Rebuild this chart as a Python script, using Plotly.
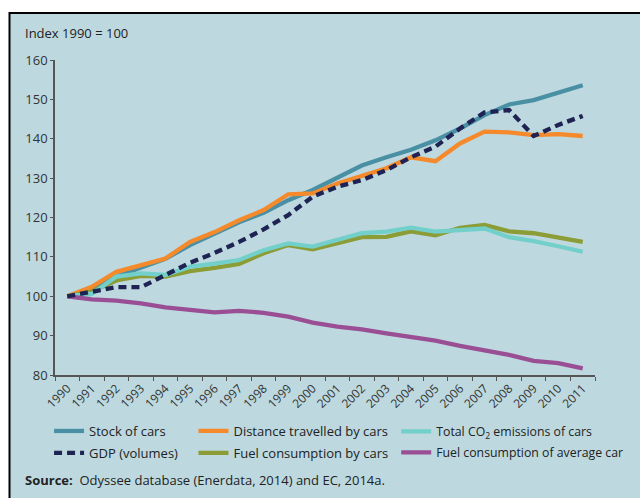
import plotly.graph_objects as go

years = [str(y) for y in range(1990, 2012)]

stock_of_cars = [100, 101.6, 105.0, 107.2, 109.5, 113.0, 116.0, 118.8, 121.2, 124.4, 127.0,
                 130.0, 133.2, 135.3, 137.2, 139.6, 142.6, 146.0, 148.7, 149.8, 151.7, 153.6]
gdp_volumes = [100, 101.2, 102.3, 102.3, 105.5, 108.5, 111.0, 113.8, 117.0, 120.6, 125.3,
               127.8, 129.5, 132.0, 135.3, 138.0, 142.6, 146.7, 147.3, 140.7, 143.5, 145.8]
distance_travelled = [100, 102.4, 106.2, 107.9, 109.6, 113.8, 116.3, 119.3, 121.9, 125.9, 126.1,
                      128.6, 130.5, 132.5, 135.3, 134.3, 138.8, 141.8, 141.6, 140.9, 141.2, 140.7]
fuel_by_cars = [100, 101.2, 104.0, 105.2, 105.0, 106.4, 107.2, 108.2, 110.9, 113.0, 111.9,
                113.4, 115.0, 115.1, 116.5, 115.5, 117.4, 118.1, 116.5, 116.0, 114.9, 113.8]
co2_of_cars = [100, 100.6, 105.0, 105.8, 105.4, 107.5, 108.3, 109.2, 111.7, 113.4, 112.6,
               114.3, 116.0, 116.4, 117.4, 116.4, 116.8, 117.2, 115.0, 114.0, 112.7, 111.3]
fuel_avg_car = [100, 99.2, 98.9, 98.2, 97.2, 96.5, 95.9, 96.3, 95.8, 94.8, 93.3,
                92.3, 91.6, 90.6, 89.7, 88.7, 87.4, 86.3, 85.1, 83.6, 83.0, 81.7]

y_ticks = [80, 90, 100, 110, 120, 130, 140, 150, 160]

BG = "#bdd9df"
AXIS = "#555555"
FONT = "Open Sans"

# plot area in pixels: x 55..601, y 60..375
W, H = 640, 498
L, R, T, B = 55, 601, 60, 375


def px_x(p):
    return (p - L) / (R - L)


def px_y(p):
    return (B - p) / (B - T)


fig = go.Figure()

series = [
    ("Stock of cars", stock_of_cars, "#4a90a4", None, "legend"),
    ("Distance travelled by cars", distance_travelled, "#f58a2c", None, "legend2"),
    ("Fuel consumption by cars", fuel_by_cars, "#8c9c36", None, "legend2"),
    ("Total CO<sub>2</sub> emissions of cars", co2_of_cars, "#72cfca", None, "legend3"),
    ("Fuel consumption of average car", fuel_avg_car, "#9a4f95", None, "legend3"),
    ("GDP (volumes)", gdp_volumes, "#1e2353", "8px,5px", "legend"),
]
legend_rank = {
    "Stock of cars": 1, "GDP (volumes)": 2,
    "Distance travelled by cars": 1, "Fuel consumption by cars": 2,
    "Total CO<sub>2</sub> emissions of cars": 1, "Fuel consumption of average car": 2,
}

for i, (name, vals, color, dash, leg) in enumerate(series):
    fig.add_trace(go.Scatter(
        x=years, y=vals, name=name, mode="lines",
        line=dict(color=color, width=4.3, dash=dash if dash else "solid"),
        legend=leg, legendrank=legend_rank[name], legendgroup=f"g{i}",
    ))

legend_common = dict(
    orientation="v", bgcolor="rgba(0,0,0,0)", borderwidth=0,
    xanchor="left", yanchor="top", tracegroupgap=2,
)

fig.update_layout(
    width=W, height=H,
    margin=dict(l=L, r=W - R, t=T, b=H - B, pad=0),
    paper_bgcolor="white",
    plot_bgcolor="rgba(0,0,0,0)",
    font=dict(family=FONT, size=13, color="#333333"),
    showlegend=True,
    legend=dict(x=px_x(49), y=px_y(416),
                font=dict(family=FONT, size=13, color="#222222"), **legend_common),
    legend2=dict(x=px_x(195), y=px_y(416),
                 font=dict(family=FONT, size=13, color="#222222"), **legend_common),
    legend3=dict(x=px_x(400), y=px_y(416.8),
                 font=dict(family=FONT, size=12.3, color="#222222"), **legend_common),
    xaxis=dict(
        type="category", range=[-0.5, 21.5], tickson="boundaries",
        ticks="outside", ticklen=4, tickwidth=1, tickcolor=AXIS,
        showline=True, linecolor=AXIS, linewidth=1.5,
        showgrid=False, zeroline=False, tickangle=-45,
        tickfont=dict(family=FONT, size=12, color="#333333"),
        fixedrange=True,
    ),
    yaxis=dict(
        range=[80, 160], tickvals=y_ticks,
        ticks="outside", ticklen=3, tickwidth=1, tickcolor=AXIS,
        showline=True, linecolor=AXIS, linewidth=1.5,
        showgrid=False, zeroline=False,
        tickfont=dict(family=FONT, size=13, color="#333333"),
        fixedrange=True,
    ),
    shapes=[dict(
        type="rect", xref="paper", yref="paper", layer="below",
        x0=px_x(9), x1=px_x(660), y0=px_y(520), y1=px_y(13),
        fillcolor=BG, line=dict(color="black", width=2),
    )],
    annotations=[
        dict(text="Index 1990 = 100", xref="paper", yref="paper",
             x=px_x(23), y=px_y(33), xanchor="left", yanchor="middle",
             showarrow=False, font=dict(family=FONT, size=13, color="#222222")),
        dict(text="<b>Source:</b>  Odyssee database (Enerdata, 2014) and EC, 2014a.",
             xref="paper", yref="paper",
             x=px_x(23), y=px_y(480), xanchor="left", yanchor="middle",
             showarrow=False, font=dict(family=FONT, size=13, color="#222222")),
    ],
)

fig.write_html("out.html")
